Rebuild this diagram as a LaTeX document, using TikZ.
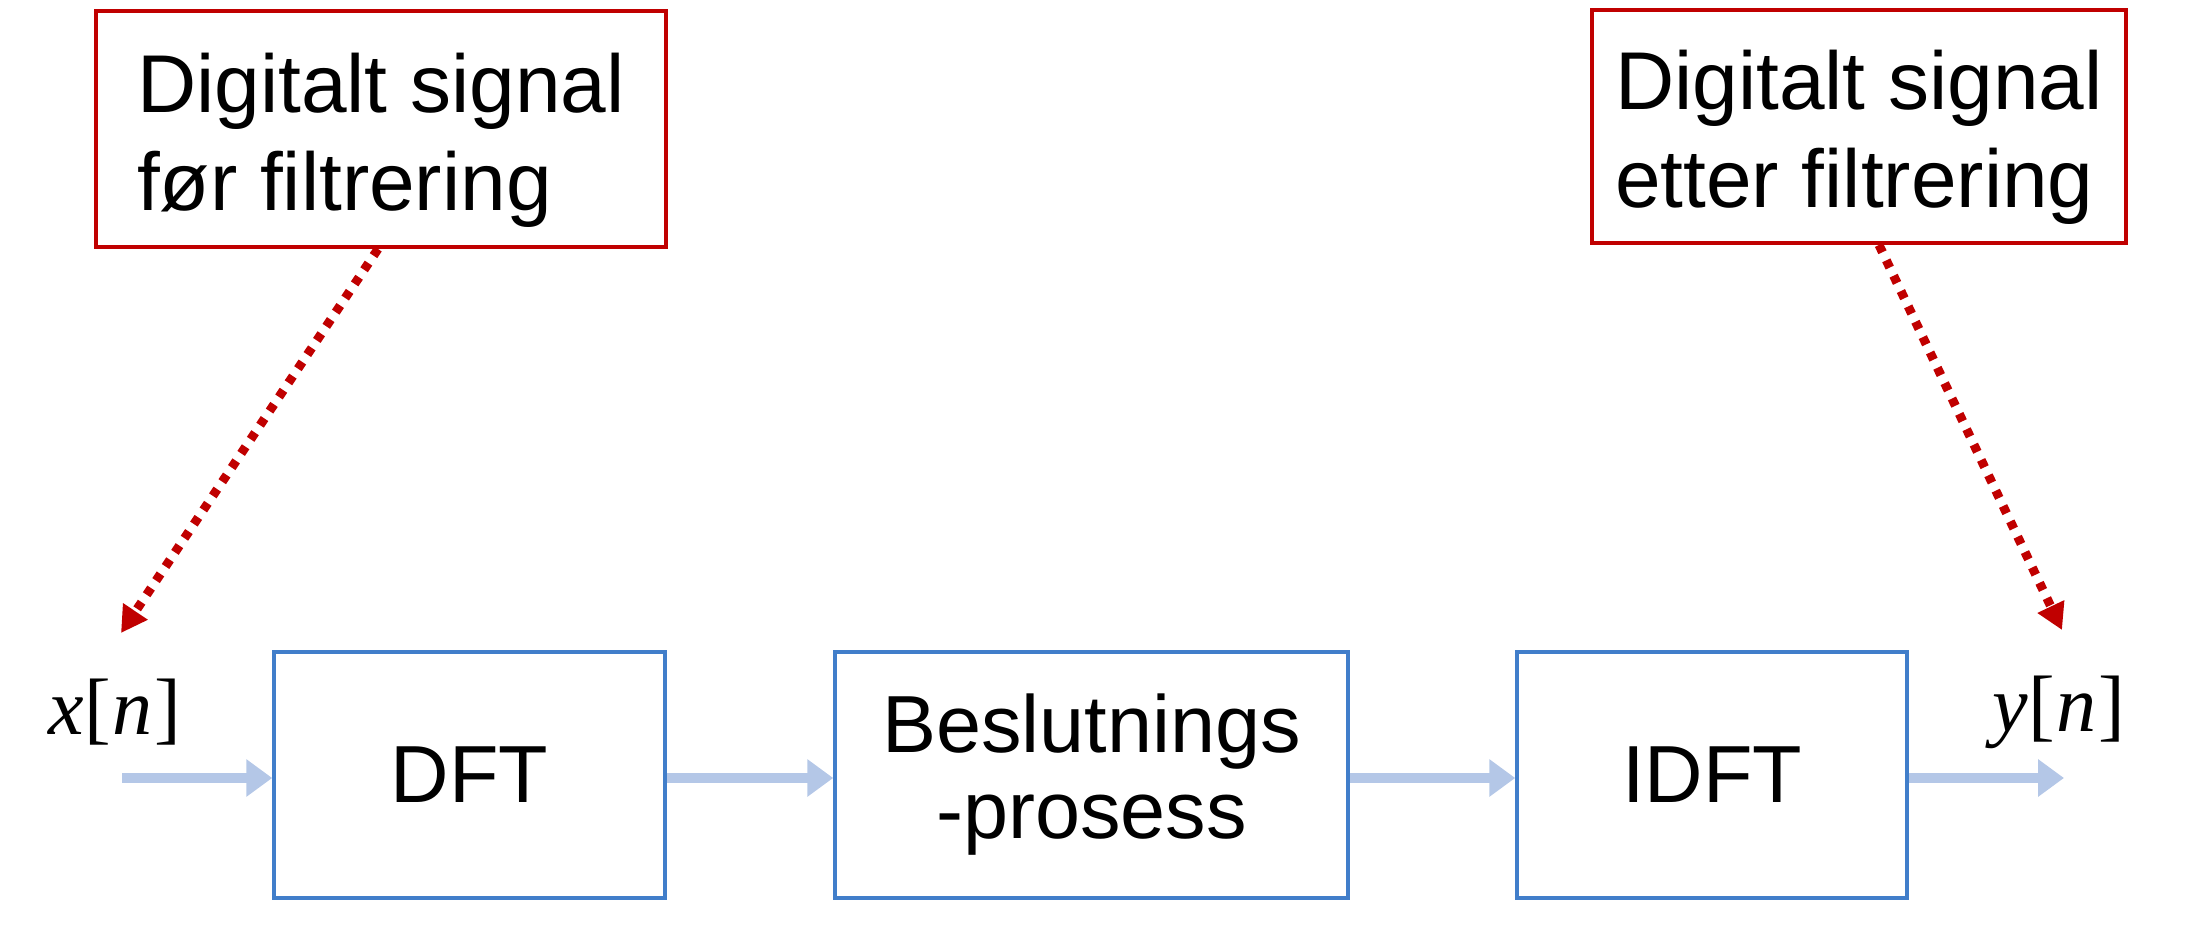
\documentclass[tikz,border=0pt]{standalone}
\usepackage{fontspec}
\setmainfont{Liberation Sans}
\newfontfamily\serifit{Liberation Serif}
\usetikzlibrary{arrows.meta}
\definecolor{boxblue}{RGB}{65,126,202}
\definecolor{arrowblue}{RGB}{180,199,231}
\definecolor{darkred}{RGB}{192,0,0}
\newcommand{\topstrut}{\rule{0pt}{82pt}}
\begin{document}
\begin{tikzpicture}[x=1pt,y=-1pt,
  redbox/.style={draw=darkred, line width=4pt, fill=white, align=left,
    font=\fontsize{82}{98}\selectfont, inner sep=0pt},
  bluebox/.style={draw=boxblue, line width=3.5pt, fill=white, align=center,
    minimum height=246pt, inner sep=0pt, font=\fontsize{81}{90}\selectfont},
  flow/.style={draw=arrowblue, line width=10pt, -{Triangle[length=26pt,width=36pt]}},
  pointer/.style={draw=darkred, line width=9pt, dash pattern=on 8pt off 9pt,
    -{Triangle[length=26pt,width=28pt]}},
  mathlabel/.style={font=\fontsize{80}{90}\serifit\selectfont, inner sep=0pt}]
\useasboundingbox (0,0) rectangle (2190,933);
\node[redbox, minimum width=570pt, minimum height=236pt] (inbox) at (381,129)
  {\topstrut Digitalt signal\\før filtrering};
\node[redbox, minimum width=534pt, minimum height=233pt] (outbox) at (1859,126.5)
  {\topstrut Digitalt signal\\etter filtrering};
\node[bluebox, minimum width=391pt] (dft) at (469.5,775) {DFT};
\node[bluebox, minimum width=513pt] (bes) at (1091.5,775) {Beslutnings\\[-4pt]-prosess};
\node[bluebox, minimum width=390pt] (idft) at (1712,775) {IDFT};
\node[mathlabel] (xn) at (115,712) {\textit{x}[\kern2pt\textit{n}\kern2pt]};
\node[mathlabel] (yn) at (2059,712) {\textit{y}[\kern2pt\textit{n}\kern2pt]};
\coordinate (xs) at (122,778);
\coordinate (ye) at (2064,778);
\coordinate (t1) at (121,633);
\coordinate (t2) at (2062,630);
\draw[flow] (xs) -- (xs -| dft.west);
\draw[flow] (dft.east |- xs) -- (bes.west |- xs);
\draw[flow] (bes.east |- xs) -- (idft.west |- xs);
\draw[flow] (idft.east |- xs) -- (ye);
\draw[pointer] ([xshift=-3pt]inbox.south) -- (t1);
\draw[pointer] ([xshift=20pt]outbox.south) -- (t2);
\end{tikzpicture}
\end{document}
